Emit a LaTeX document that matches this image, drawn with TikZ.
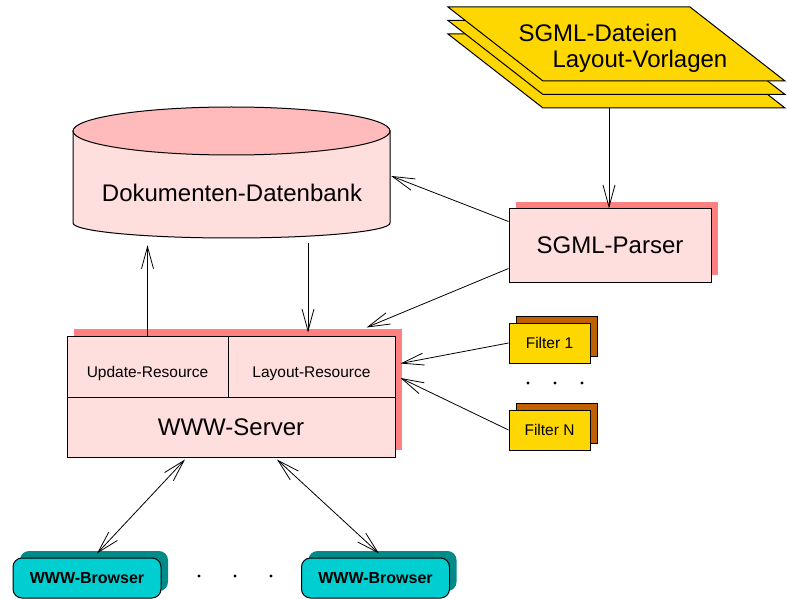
\documentclass[tikz,border=0pt]{standalone}
\usepackage{fontspec}
\setmainfont{Liberation Sans}
\usetikzlibrary{arrows.meta,shadows}
\definecolor{rosa}{RGB}{255,222,222}
\definecolor{rosadunkel}{RGB}{255,187,187}
\definecolor{schatten}{RGB}{255,128,128}
\definecolor{gelb}{RGB}{255,215,0}
\definecolor{braun}{RGB}{192,96,0}
\definecolor{tuerkis}{RGB}{0,206,209}
\definecolor{petrol}{RGB}{0,139,139}
\tikzset{
    gross/.style={font=\fontsize{24}{28}\selectfont},
    klein/.style={font=\fontsize{15.5}{18}\selectfont},
    pfeil/.style={line width=0.8pt, -{Straight Barb[length=22pt,width=12pt]}},
    doppelpfeil/.style={line width=0.8pt, {Straight Barb[length=22pt,width=12pt]}-{Straight Barb[length=22pt,width=12pt]}},
    kasten/.style={draw, line width=1pt, fill=rosa, inner sep=0pt},
    rotschatten/.style={general shadow={fill=schatten, shadow xshift=7pt, shadow yshift=7pt}},
    filterbox/.style={draw, line width=1pt, fill=gelb, inner sep=0pt, minimum width=81pt, minimum height=40pt,
        klein, general shadow={fill=braun, draw, line width=1pt, shadow xshift=7pt, shadow yshift=7pt}},
    browserbox/.style={draw, line width=1pt, fill=tuerkis, rounded corners=9pt, inner sep=0pt,
        minimum width=148pt, minimum height=40pt, font=\fontsize{16}{19}\selectfont\bfseries,
        general shadow={fill=petrol, shadow xshift=7pt, shadow yshift=7pt}},
    punkt/.style={fill=black}
}
\begin{document}
\begin{tikzpicture}[x=1pt, y=-1pt]
    \useasboundingbox (0,0) rectangle (788,599);

    \foreach \dy in {27, 13.5, 0} {
        \draw[line width=1pt, fill=gelb] (448,7+\dy) -- (690,7+\dy) -- (785,81+\dy) -- (543,81+\dy) -- cycle;
    }
    \node[gross, anchor=base west] (dateien) at (515,42) {SGML-Dateien};
    \node[gross, anchor=base west] (vorlagen) at (549,68) {Layout-Vorlagen};
    \coordinate (stapel) at (609,108);

    \filldraw[line width=1pt, fill=rosa] (73,131) -- (73,223)
        arc[start angle=180, end angle=360, x radius=158.5pt, y radius=15pt] -- (390,131) -- cycle;
    \filldraw[line width=1pt, fill=rosadunkel] (231.5,131) ellipse[x radius=158.5pt, y radius=24pt];
    \node[minimum width=317pt, minimum height=133pt, inner sep=0pt] (db) at (231.5,173.5) {};
    \node[gross, anchor=base] (dbtext) at (232,202) {Dokumenten-Datenbank};

    \node[kasten, rotschatten, gross, minimum width=202pt, minimum height=73pt] (parser) at (610,245.5) {SGML-Parser};

    \node[kasten, rotschatten, minimum width=328pt, minimum height=121pt] (server) at (231,396.5) {};
    \node[kasten, klein, text height=21pt, text depth=0pt, minimum width=161pt, minimum height=61pt] (upd) at (147.5,366.5) {Update-Resource};
    \node[kasten, klein, text height=21pt, text depth=0pt, minimum width=167pt, minimum height=61pt] (lay) at (311.5,366.5) {Layout-Resource};
    \node[kasten, gross, minimum width=328pt, minimum height=60pt] (www) at (231,427) {WWW-Server};

    \node[filterbox] (filtereins) at (549.5,343) {Filter 1};
    \node[filterbox] (filtern) at (549.5,430) {Filter N};
    \foreach \x in {528, 555, 582} {
        \fill[punkt] (\x,383) circle (1.6pt);
    }

    \node[browserbox] (browsereins) at (87,578) {WWW-Browser};
    \node[browserbox] (browserzwei) at (375.5,578) {WWW-Browser};
    \foreach \x in {199, 235, 271} {
        \fill[punkt] (\x,576) circle (1.6pt);
    }

    \draw[pfeil] (stapel) -- (stapel |- parser.north);
    \draw[pfeil] ([yshift=-13pt]parser.north west) -- ([xshift=1pt,yshift=-2.5pt]db.east);
    \draw[pfeil] ([yshift=-60pt]parser.north west) -- ([xshift=-29pt,yshift=8pt]server.north east);
    \draw[pfeil] ([xshift=76.5pt,yshift=-3pt]db.south) -- ([xshift=76.5pt,yshift=3pt]db.south |- server.north);
    \draw[pfeil] (upd.north) -- ([yshift=-5pt]upd.north |- db.south);
    \draw[pfeil] (filtereins.west) -- ([xshift=5pt,yshift=3pt]lay.east);
    \draw[pfeil] (filtern.west) -- ([xshift=5pt,yshift=-11.5pt]lay.east);
    \draw[doppelpfeil] ([xshift=-46pt,yshift=-2pt]www.south) -- ([xshift=10pt,yshift=4pt]browsereins.north);
    \draw[doppelpfeil] ([xshift=46pt,yshift=-2pt]www.south) -- ([xshift=3.5pt,yshift=4pt]browserzwei.north);
\end{tikzpicture}
\end{document}
